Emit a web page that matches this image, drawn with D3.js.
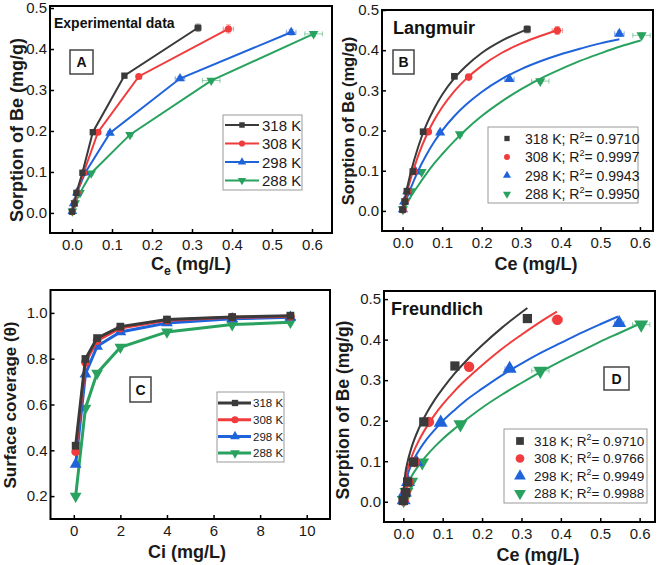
<!DOCTYPE html>
<html><head><meta charset="utf-8">
<script src="https://cdn.jsdelivr.net/npm/d3@7"></script>
<style>body{margin:0;background:#fff} svg{display:block}</style>
</head><body>
<svg id="chart" width="661" height="565"></svg>
<script>
// ---------- DATA ----------
const tempLabels = ["318 K", "308 K", "298 K", "288 K"];
const seriesColors = ["#3a3a3a", "#f03c3c", "#1f63db", "#28a25e"];
const seriesShapes = ["square", "circle", "triangle", "triangleDown"];

// Experimental equilibrium data (Ce mg/L, q mg/g)
const ce318 = [0.000, 0.006, 0.011, 0.026, 0.052, 0.131, 0.315];
const q318  = [0.003, 0.023, 0.049, 0.098, 0.197, 0.335, 0.452];
const ce308 = [0.001, 0.006, 0.013, 0.029, 0.065, 0.167, 0.391];
const q308  = [0.003, 0.024, 0.049, 0.098, 0.197, 0.333, 0.449];
const ce298 = [0.001, 0.004, 0.012, 0.033, 0.095, 0.270, 0.548];
const q298  = [0.004, 0.023, 0.049, 0.098, 0.195, 0.328, 0.441];
const ce288 = [0.001, 0.008, 0.020, 0.048, 0.145, 0.348, 0.604];
const q288  = [0.004, 0.024, 0.049, 0.097, 0.191, 0.323, 0.437];

// error bars
const errX318 = [0, 0, 0, 0, 0.003, 0.005, 0.008];
const errY318 = [0, 0, 0, 0, 0.004, 0.005, 0.009];
const errX308 = [0, 0, 0, 0, 0.004, 0.006, 0.013];
const errY308 = [0, 0, 0, 0, 0.004, 0.005, 0.010];
const errX298 = [0, 0, 0, 0.003, 0.005, 0.012, 0.012];
const errY298 = [0, 0, 0, 0, 0.004, 0.005, 0.007];
const errX288 = [0, 0, 0.003, 0.004, 0.006, 0.022, 0.022];
const errY288 = [0, 0, 0, 0, 0.004, 0.005, 0.006];

// Langmuir fit curves
const langX318 = [0, 0.01, 0.02, 0.04, 0.06, 0.08, 0.10, 0.13, 0.16, 0.20, 0.25, 0.31];
const langY318 = [0, 0.050, 0.093, 0.161, 0.214, 0.255, 0.289, 0.329, 0.360, 0.393, 0.423, 0.450];
const langX308 = [0, 0.01, 0.02, 0.04, 0.06, 0.08, 0.10, 0.13, 0.16, 0.20, 0.25, 0.30, 0.35, 0.39];
const langY308 = [0, 0.042, 0.078, 0.139, 0.187, 0.226, 0.258, 0.297, 0.328, 0.361, 0.393, 0.417, 0.436, 0.449];
const langX298 = [0, 0.01, 0.02, 0.04, 0.06, 0.08, 0.10, 0.13, 0.16, 0.20, 0.25, 0.30, 0.35, 0.40, 0.45, 0.50, 0.548];
const langY298 = [0, 0.029, 0.055, 0.101, 0.139, 0.172, 0.200, 0.235, 0.264, 0.296, 0.328, 0.353, 0.373, 0.390, 0.404, 0.417, 0.427];
const langX288 = [0, 0.01, 0.02, 0.04, 0.06, 0.08, 0.10, 0.13, 0.16, 0.20, 0.25, 0.30, 0.35, 0.40, 0.45, 0.50, 0.55, 0.602];
const langY288 = [0, 0.017, 0.034, 0.064, 0.092, 0.118, 0.141, 0.173, 0.202, 0.236, 0.272, 0.303, 0.330, 0.353, 0.374, 0.392, 0.409, 0.424];
const langR2 = ["0.9710", "0.9997", "0.9943", "0.9950"];

// Freundlich fit curves
const frX318 = [0.001, 0.005, 0.01, 0.02, 0.04, 0.06, 0.08, 0.10, 0.13, 0.16, 0.20, 0.25, 0.315];
const frY318 = [0.032, 0.069, 0.095, 0.131, 0.182, 0.220, 0.252, 0.279, 0.316, 0.348, 0.386, 0.429, 0.478];
const frX308 = [0.001, 0.005, 0.01, 0.02, 0.04, 0.06, 0.08, 0.10, 0.13, 0.16, 0.20, 0.25, 0.30, 0.35, 0.39];
const frY308 = [0.025, 0.055, 0.077, 0.108, 0.152, 0.186, 0.215, 0.240, 0.273, 0.302, 0.337, 0.377, 0.412, 0.445, 0.469];
const frX298 = [0.001, 0.005, 0.01, 0.02, 0.04, 0.06, 0.08, 0.10, 0.13, 0.16, 0.20, 0.25, 0.30, 0.35, 0.40, 0.45, 0.50, 0.545];
const frY298 = [0.021, 0.046, 0.064, 0.091, 0.127, 0.155, 0.178, 0.199, 0.226, 0.251, 0.279, 0.312, 0.341, 0.368, 0.392, 0.416, 0.438, 0.457];
const frX288 = [0.001, 0.005, 0.01, 0.02, 0.04, 0.06, 0.08, 0.10, 0.13, 0.16, 0.20, 0.25, 0.30, 0.35, 0.40, 0.45, 0.50, 0.55, 0.60];
const frY288 = [0.011, 0.027, 0.040, 0.061, 0.091, 0.115, 0.136, 0.155, 0.180, 0.203, 0.232, 0.264, 0.293, 0.321, 0.347, 0.371, 0.395, 0.417, 0.439];
const frR2 = ["0.9710", "0.9766", "0.9949", "0.9988"];

// Surface coverage
const ci = [0.08, 0.5, 1, 2, 4, 6.8, 9.3];
const theta318 = [0.420, 0.799, 0.890, 0.940, 0.971, 0.982, 0.988];
const theta308 = [0.394, 0.784, 0.879, 0.934, 0.968, 0.981, 0.985];
const theta298 = [0.339, 0.733, 0.854, 0.917, 0.956, 0.974, 0.981];
const theta288 = [0.200, 0.584, 0.737, 0.850, 0.917, 0.949, 0.959];

// ticks
const ceTicks = [0.0, 0.1, 0.2, 0.3, 0.4, 0.5, 0.6];
const qTicks = [0.0, 0.1, 0.2, 0.3, 0.4, 0.5];
const ciTicks = [0, 2, 4, 6, 8, 10];
const thetaTicks = [0.2, 0.4, 0.6, 0.8, 1.0];

// ---------- BUILD ----------
const expCe = [ce318, ce308, ce298, ce288];
const expQ = [q318, q308, q298, q288];
const expEX = [errX318, errX308, errX298, errX288];
const expEY = [errY318, errY308, errY298, errY288];
const langX = [langX318, langX308, langX298, langX288];
const langY = [langY318, langY308, langY298, langY288];
const frX = [frX318, frX308, frX298, frX288];
const frY = [frY318, frY308, frY298, frY288];
const thetas = [theta318, theta308, theta298, theta288];

const FONT = "'Liberation Sans', Arial, Helvetica, sans-serif";
const svg = d3.select("#chart").style("font-family", FONT);
svg.append("rect").attr("width", 661).attr("height", 565).attr("fill", "#fff");

function symPath(shape, size) {
  const map = {square: d3.symbolSquare, circle: d3.symbolCircle, triangle: d3.symbolTriangle, triangleDown: d3.symbolTriangle};
  return d3.symbol().type(map[shape]).size(size)();
}
function marker(g, shape, size, cx, cy, color) {
  g.append("path").attr("d", symPath(shape, size))
    .attr("transform", `translate(${cx},${cy})` + (shape === "triangleDown" ? " rotate(180)" : ""))
    .attr("fill", color).attr("stroke", "none");
}

function makePanel(cfg) {
  const x = d3.scaleLinear().domain(cfg.xDomain).range(cfg.xRange);
  const y = d3.scaleLinear().domain(cfg.yDomain).range(cfg.yRange);
  const g = svg.append("g");
  const xAxis = d3.axisBottom(x).tickValues(cfg.xTicks).tickFormat(cfg.xFmt)
    .tickSizeInner(-4).tickSizeOuter(0).tickPadding(6);
  const yAxis = d3.axisLeft(y).tickValues(cfg.yTicks).tickFormat(cfg.yFmt)
    .tickSizeInner(-4).tickSizeOuter(0).tickPadding(3);
  const gx = g.append("g").attr("transform", `translate(0,${cfg.yRange[0]})`).call(xAxis);
  const gy = g.append("g").attr("transform", `translate(${cfg.xRange[0]},0)`).call(yAxis);
  [gx, gy].forEach(a => {
    a.select(".domain").remove();
    a.selectAll(".tick line").attr("stroke", "#000").attr("stroke-width", 1.5);
    a.selectAll(".tick text").attr("font-size", cfg.tickFont || 15).attr("fill", "#1a1a1a").attr("font-family", FONT);
  });
  g.append("rect").attr("x", cfg.xRange[0]).attr("y", cfg.yRange[1])
    .attr("width", cfg.xRange[1] - cfg.xRange[0]).attr("height", cfg.yRange[0] - cfg.yRange[1])
    .attr("fill", "none").attr("stroke", "#000").attr("stroke-width", 2);
  return {x, y, g};
}

function yTitle(text, cx, cy, size) {
  svg.append("text").attr("transform", `translate(${cx},${cy}) rotate(-90)`)
    .attr("text-anchor", "middle").attr("dominant-baseline", "central")
    .attr("font-weight", "bold").attr("font-size", size).attr("fill", "#1a1a1a").text(text);
}
function xTitle(main, sub, rest, cx, by, size) {
  const t = svg.append("text").attr("x", cx).attr("y", by).attr("text-anchor", "middle")
    .attr("font-weight", "bold").attr("font-size", size).attr("fill", "#1a1a1a");
  t.append("tspan").text(main);
  if (sub) {
    t.append("tspan").attr("dy", 5).attr("font-size", size * 0.68).text(sub);
    t.append("tspan").attr("dy", -5).text(rest);
  } else {
    t.append("tspan").text(rest);
  }
}
function letterBox(ch, x0, y0, w, h) {
  svg.append("rect").attr("x", x0).attr("y", y0).attr("width", w).attr("height", h)
    .attr("fill", "#fff").attr("stroke", "#444").attr("stroke-width", 1.5);
  svg.append("text").attr("x", x0 + w / 2).attr("y", y0 + h / 2 + 5).attr("text-anchor", "middle")
    .attr("font-weight", "bold").attr("font-size", 14).attr("fill", "#111").text(ch);
}
function errorBars(P, i, color) {
  const eg = P.g.append("g").attr("stroke", color).attr("stroke-opacity", 0.5).attr("stroke-width", 1).attr("fill", "none");
  expCe[i].forEach((c, k) => {
    const q = expQ[i][k], ex = expEX[i][k], ey = expEY[i][k];
    const px = P.x(c), py = P.y(q);
    if (ex > 0) {
      const x1 = P.x(c - ex), x2 = P.x(c + ex);
      eg.append("line").attr("x1", x1).attr("x2", x2).attr("y1", py).attr("y2", py);
      eg.append("line").attr("x1", x1).attr("x2", x1).attr("y1", py - 2.5).attr("y2", py + 2.5);
      eg.append("line").attr("x1", x2).attr("x2", x2).attr("y1", py - 2.5).attr("y2", py + 2.5);
    }
    if (ey > 0) {
      const y1 = P.y(q - ey), y2 = P.y(q + ey);
      eg.append("line").attr("x1", px).attr("x2", px).attr("y1", y1).attr("y2", y2);
      eg.append("line").attr("x1", px - 2.5).attr("x2", px + 2.5).attr("y1", y1).attr("y2", y1);
      eg.append("line").attr("x1", px - 2.5).attr("x2", px + 2.5).attr("y1", y2).attr("y2", y2);
    }
  });
}

// ---------- Panel A ----------
const A = makePanel({id: "A", xDomain: [-0.055, 0.65], xRange: [50, 332], yDomain: [-0.049, 0.505], yRange: [233, 6],
  xTicks: ceTicks, yTicks: qTicks, xFmt: d3.format(".1f"), yFmt: d3.format(".1f")});
for (let i = 3; i >= 0; i--) {
  const pts = expCe[i].map((c, k) => [A.x(c), A.y(expQ[i][k])]);
  A.g.append("path").attr("d", d3.line()(pts)).attr("fill", "none").attr("stroke", seriesColors[i]).attr("stroke-width", 2);
  errorBars(A, i, seriesColors[i]);
  pts.forEach(p => marker(A.g, seriesShapes[i], 40, p[0], p[1], seriesColors[i]));
}
svg.append("text").attr("x", 54).attr("y", 28).attr("font-weight", "bold").attr("font-size", 14).attr("fill", "#111").text("Experimental data");
letterBox("A", 70, 50, 23, 24);
// legend A
svg.append("rect").attr("x", 223).attr("y", 115).attr("width", 79).attr("height", 75).attr("fill", "#fff").attr("stroke", "#999").attr("stroke-width", 1);
tempLabels.forEach((lab, i) => {
  const yy = 125 + i * 18.5;
  svg.append("line").attr("x1", 225).attr("x2", 259).attr("y1", yy).attr("y2", yy).attr("stroke", seriesColors[i]).attr("stroke-width", 2);
  marker(svg, seriesShapes[i], 30, 242, yy, seriesColors[i]);
  svg.append("text").attr("x", 262).attr("y", yy + 5.5).attr("font-size", 15).attr("fill", "#1a1a1a").text(lab);
});
yTitle("Sorption of Be (mg/g)", 17, 130, 18);
xTitle("C", "e", " (mg/L)", 191, 270, 18);

// ---------- Panel B ----------
const B = makePanel({id: "B", xDomain: [-0.052, 0.633], xRange: [382, 653], yDomain: [-0.05, 0.5], yRange: [231, 10],
  xTicks: ceTicks, yTicks: qTicks, xFmt: d3.format(".1f"), yFmt: d3.format(".1f")});
for (let i = 3; i >= 0; i--) {
  errorBars(B, i, seriesColors[i]);
  expCe[i].forEach((c, k) => marker(B.g, seriesShapes[i], 45, B.x(c), B.y(expQ[i][k]), seriesColors[i]));
  const pts = langX[i].map((c, k) => [B.x(c), B.y(langY[i][k])]);
  B.g.append("path").attr("d", d3.line().curve(d3.curveMonotoneX)(pts)).attr("fill", "none").attr("stroke", seriesColors[i]).attr("stroke-width", 2);
}
svg.append("text").attr("x", 393).attr("y", 34).attr("font-weight", "bold").attr("font-size", 18).attr("fill", "#111").text("Langmuir");
letterBox("B", 393, 50, 21, 24);
function r2Legend(x0, y0, w, h, rows, r2, fs, msize, mx, tx, dyRow, firstY) {
  svg.append("rect").attr("x", x0).attr("y", y0).attr("width", w).attr("height", h).attr("fill", "#fff").attr("stroke", "#999").attr("stroke-width", 1);
  rows.forEach((lab, i) => {
    const yy = firstY + i * dyRow;
    marker(svg, seriesShapes[i], msize, mx, yy, seriesColors[i]);
    const t = svg.append("text").attr("x", tx).attr("y", yy + fs * 0.36).attr("font-size", fs).attr("fill", "#1a1a1a");
    t.append("tspan").text(lab + "; R");
    t.append("tspan").attr("dy", -fs * 0.4).attr("font-size", fs * 0.65).text("2");
    t.append("tspan").attr("dy", fs * 0.4).text("= " + r2[i]);
  });
}
r2Legend(488, 127, 150, 76, tempLabels, langR2, 14, 28, 507, 525, 18.5, 138.5);
yTitle("Sorption of Be (mg/g)", 348, 121, 16.5);
xTitle("Ce (mg/L)", null, "", 536, 270, 18);

// ---------- Panel C ----------
const C = makePanel({id: "C", xDomain: [-1, 11], xRange: [50.5, 330], yDomain: [0.1, 1.1], yRange: [519, 290],
  xTicks: ciTicks, yTicks: thetaTicks, xFmt: d3.format("d"), yFmt: d3.format(".1f")});
for (let i = 3; i >= 0; i--) {
  const pts = ci.map((c, k) => [C.x(c), C.y(thetas[i][k])]);
  C.g.append("path").attr("d", d3.line()(pts)).attr("fill", "none").attr("stroke", seriesColors[i]).attr("stroke-width", 3);
  pts.forEach(p => marker(C.g, seriesShapes[i], 60, p[0], p[1], seriesColors[i]));
}
letterBox("C", 130, 377, 21, 25);
svg.append("rect").attr("x", 217).attr("y", 392).attr("width", 67).attr("height", 70).attr("fill", "#fff").attr("stroke", "#999").attr("stroke-width", 1);
tempLabels.forEach((lab, i) => {
  const yy = 403 + i * 16.7;
  svg.append("line").attr("x1", 218).attr("x2", 251).attr("y1", yy).attr("y2", yy).attr("stroke", seriesColors[i]).attr("stroke-width", 3);
  marker(svg, seriesShapes[i], 40, 235, yy, seriesColors[i]);
  svg.append("text").attr("x", 253).attr("y", yy + 4.2).attr("font-size", 11.5).attr("fill", "#1a1a1a").text(lab);
});
yTitle("Surface coverage (θ)", 10, 405, 17);
xTitle("Ci (mg/L)", null, "", 187, 558, 18);

// ---------- Panel D ----------
const D = makePanel({id: "D", xDomain: [-0.049, 0.639], xRange: [384, 655], yDomain: [-0.05, 0.52], yRange: [522, 291],
  xTicks: ceTicks, yTicks: qTicks, xFmt: d3.format(".1f"), yFmt: d3.format(".1f")});
for (let i = 3; i >= 0; i--) {
  errorBars(D, i, seriesColors[i]);
  expCe[i].forEach((c, k) => marker(D.g, seriesShapes[i], 85, D.x(c), D.y(expQ[i][k]), seriesColors[i]));
  const pts = frX[i].map((c, k) => [D.x(c), D.y(frY[i][k])]);
  D.g.append("path").attr("d", d3.line().curve(d3.curveMonotoneX)(pts)).attr("fill", "none").attr("stroke", seriesColors[i]).attr("stroke-width", 2);
}
svg.append("text").attr("x", 391).attr("y", 315).attr("font-weight", "bold").attr("font-size", 18).attr("fill", "#111").text("Freundlich");
letterBox("D", 604, 367, 25, 23);
r2Legend(504, 429, 143, 74, tempLabels, frR2, 13.5, 60, 520, 534, 17.5, 441);
yTitle("Sorption of Be (mg/g)", 343, 410, 17.5);
xTitle("Ce (mg/L)", null, "", 538, 561, 18);
</script>
</body></html>
